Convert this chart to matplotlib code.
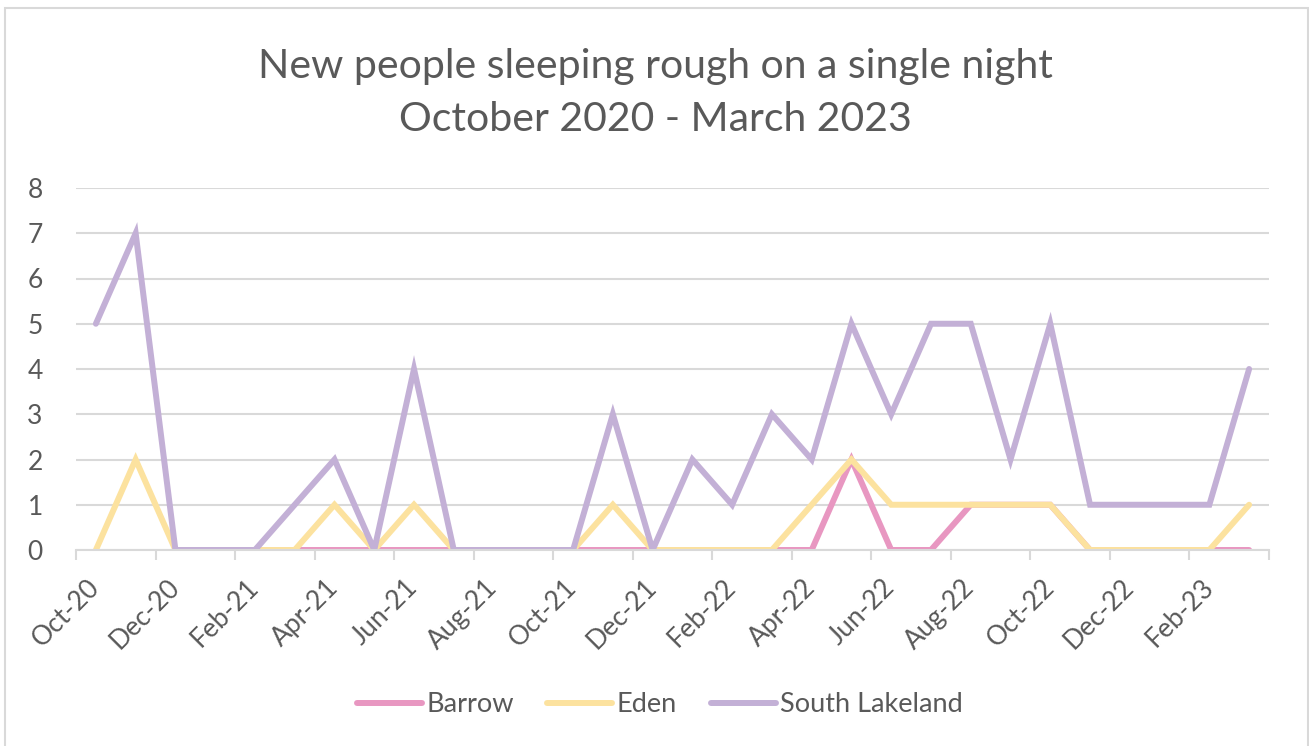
import numpy as np
import matplotlib.pyplot as plt
from matplotlib.patches import Rectangle

plt.rcParams['font.family'] = ['Lato', 'DejaVu Sans']

months = ['Oct-20', 'Nov-20', 'Dec-20', 'Jan-21', 'Feb-21', 'Mar-21', 'Apr-21', 'May-21',
          'Jun-21', 'Jul-21', 'Aug-21', 'Sep-21', 'Oct-21', 'Nov-21', 'Dec-21', 'Jan-22',
          'Feb-22', 'Mar-22', 'Apr-22', 'May-22', 'Jun-22', 'Jul-22', 'Aug-22', 'Sep-22',
          'Oct-22', 'Nov-22', 'Dec-22', 'Jan-23', 'Feb-23', 'Mar-23']

nan = np.nan
barrow = [nan, nan, nan, 0, 0, 0, 0, 0, 0, 0, 0, 0, 0, 0, 0, 0,
          0, 0, 0, 2, 0, 0, 1, 1, 1, 0, 0, 0, 0, 0]
eden = [0, 2, 0, 0, 0, 0, 1, 0, 1, 0, 0, 0, 0, 1, 0, 0,
        0, 0, 1, 2, 1, 1, 1, 1, 1, 0, 0, 0, 0, 1]
south_lakeland = [5, 7, 0, 0, 0, 1, 2, 0, 4, 0, 0, 0, 0, 3, 0, 2,
                  1, 3, 2, 5, 3, 5, 5, 2, 5, 1, 1, 1, 1, 4]

series = [('Barrow', barrow, '#E897C1'),
          ('Eden', eden, '#FCE29F'),
          ('South Lakeland', south_lakeland, '#C3B0D6')]

txt = '#595959'
W, H = 1309, 746
fig = plt.figure(figsize=(W / 100, H / 100), dpi=100)
fig.patches.append(Rectangle((5 / W, -0.05), 1303 / W, 1.05 - 8 / H, transform=fig.transFigure,
                             fill=False, edgecolor='#D9D9D9', linewidth=1.5))

ax = fig.add_axes([76 / W, 1 - 550 / H, (1269 - 76) / W, (550 - 188) / H])
x = np.arange(len(months))
for name, vals, col in series:
    ax.plot(x, vals, color=col, linewidth=4.3, label=name, solid_joinstyle='miter',
            solid_capstyle='round')

ax.set_xlim(-0.5, len(months) - 0.5)
ax.set_ylim(0, 8)
ax.set_yticks(range(0, 9))
ax.grid(axis='y', color='#D9D9D9', linewidth=1.5)
ax.set_axisbelow(True)
for s in ['left', 'right', 'top']:
    ax.spines[s].set_visible(False)
ax.spines['bottom'].set_color('#D9D9D9')
ax.spines['bottom'].set_linewidth(1.5)
ax.tick_params(axis='y', length=0, pad=24, labelsize=19, labelcolor=txt)

ax.set_xticks(x[::2])
ax.set_xticklabels(months[::2], rotation=45, ha='right', va='center', rotation_mode='anchor')
ax.set_xticks(np.arange(-0.5, len(months), 2), minor=True)
ax.tick_params(axis='x', which='major', length=0, pad=24, labelsize=19, labelcolor=txt)
ax.tick_params(axis='x', which='minor', length=7, width=1.5, color='#D9D9D9')

fig.text(0.501, 1 - 93 / H, 'New people sleeping rough on a single night\nOctober 2020 - March 2023',
         ha='center', va='center', fontsize=29.5, color=txt, linespacing=1.55)

fig.legend(loc='center', bbox_to_anchor=(0.504, 1 - 705 / H), ncol=3, frameon=False,
           fontsize=19.5, labelcolor=txt, handlelength=2.4, handletextpad=0.15, columnspacing=1.25)

fig.savefig('out.png', dpi=100)
